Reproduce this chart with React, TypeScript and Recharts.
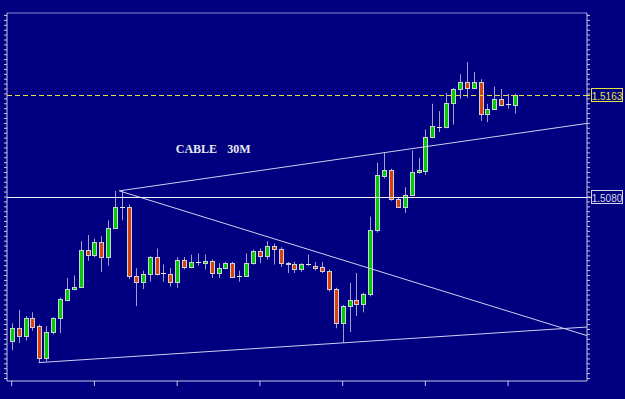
import React from 'react';
import { ComposedChart, Bar, XAxis, YAxis, ReferenceLine, ReferenceDot } from 'recharts';

// 30 minute GBP/USD candles
const opens = [
  1.4963, 1.4973, 1.4967, 1.4981, 1.4975, 1.4949, 1.4970, 1.4981, 1.4996, 1.5005,
  1.5007, 1.5037, 1.5033, 1.5043, 1.5031, 1.5055, 1.5072, 1.5072, 1.5016, 1.5011,
  1.5017, 1.5031, 1.5018, 1.5017, 1.5011, 1.5029, 1.5023, 1.5027, 1.5026, 1.5028,
  1.5018, 1.5022, 1.5026, 1.5016, 1.5016, 1.5026, 1.5036, 1.5032, 1.5040, 1.5038,
  1.5026, 1.5025, 1.5021, 1.5025, 1.5024, 1.5023, 1.5020, 1.5005, 1.4977, 1.4991,
  1.4996, 1.4993, 1.5001, 1.5053, 1.5097, 1.5102, 1.5078, 1.5072, 1.5082, 1.5100,
  1.5101, 1.5129, 1.5137, 1.5137, 1.5157, 1.5168, 1.5174, 1.5169, 1.5174, 1.5148,
  1.5152, 1.5160, 1.5156, 1.5155,
];
const highs = [
  1.4977, 1.4988, 1.4983, 1.4986, 1.4976, 1.4975, 1.4982, 1.4998, 1.5014, 1.5016,
  1.5044, 1.5049, 1.5046, 1.5048, 1.5061, 1.5085, 1.5085, 1.5074, 1.5022, 1.5020,
  1.5032, 1.5038, 1.5025, 1.5022, 1.5031, 1.5031, 1.5033, 1.5034, 1.5033, 1.5029,
  1.5026, 1.5027, 1.5027, 1.5020, 1.5034, 1.5037, 1.5038, 1.5044, 1.5042, 1.5039,
  1.5027, 1.5027, 1.5026, 1.5033, 1.5027, 1.5027, 1.5021, 1.5006, 1.4992, 1.5010,
  1.5018, 1.5002, 1.5064, 1.5108, 1.5116, 1.5103, 1.5080, 1.5088, 1.5118, 1.5112,
  1.5135, 1.5156, 1.5150, 1.5165, 1.5169, 1.5180, 1.5190, 1.5182, 1.5176, 1.5156,
  1.5170, 1.5168, 1.5164, 1.5164,
];
const lows = [
  1.4955, 1.4961, 1.4963, 1.4971, 1.4945, 1.4946, 1.4968, 1.4969, 1.4995, 1.5004,
  1.5006, 1.5028, 1.5031, 1.5019, 1.5024, 1.5054, 1.5061, 1.5013, 1.4991, 1.5005,
  1.5011, 1.5016, 1.5011, 1.5007, 1.5006, 1.5021, 1.5022, 1.5024, 1.5021, 1.5014,
  1.5014, 1.5021, 1.5014, 1.5011, 1.5015, 1.5025, 1.5026, 1.5029, 1.5025, 1.5023,
  1.5018, 1.5018, 1.5019, 1.5024, 1.5020, 1.5018, 1.5003, 1.4973, 1.4961, 1.4970,
  1.4983, 1.4986, 1.4999, 1.5051, 1.5095, 1.5077, 1.5071, 1.5067, 1.5081, 1.5099,
  1.5098, 1.5128, 1.5133, 1.5136, 1.5139, 1.5160, 1.5161, 1.5168, 1.5142, 1.5141,
  1.5151, 1.5154, 1.5152, 1.5148,
];
const closes = [
  1.4973, 1.4967, 1.4981, 1.4974, 1.4949, 1.4970, 1.4981, 1.4997, 1.5005, 1.5007,
  1.5037, 1.5033, 1.5043, 1.5031, 1.5055, 1.5072, 1.5072, 1.5016, 1.5011, 1.5017,
  1.5031, 1.5017, 1.5018, 1.5011, 1.5029, 1.5023, 1.5027, 1.5027, 1.5028, 1.5018,
  1.5022, 1.5026, 1.5015, 1.5016, 1.5026, 1.5036, 1.5032, 1.5040, 1.5038, 1.5026,
  1.5025, 1.5021, 1.5025, 1.5025, 1.5022, 1.5020, 1.5005, 1.4977, 1.4991, 1.4996,
  1.4993, 1.5001, 1.5053, 1.5098, 1.5102, 1.5078, 1.5072, 1.5082, 1.5100, 1.5102,
  1.5129, 1.5138, 1.5137, 1.5157, 1.5168, 1.5174, 1.5169, 1.5174, 1.5148, 1.5152,
  1.5160, 1.5155, 1.5156, 1.5163,
];

// hand drawn trend lines (bar index, price)
const upperTrend = [{ x: 15.6, y: 1.5085 }, { x: 83.44, y: 1.514 }];
const fallingTrend = [{ x: 15.6, y: 1.5085 }, { x: 83.44, y: 1.4967 }];
const lowerTrend = [{ x: 3.9, y: 1.4945 }, { x: 83.44, y: 1.4974 }];

const dashedLevel = 1.5163;
const solidLevel = 1.508;

const xTicks = [0, 12, 24, 36, 48, 60, 72];
const yTicks = Array.from({ length: 75 }, (_, k) => +(1.4932 + k * 0.0004).toFixed(4));

const X_DOMAIN: [number, number] = [-0.68, 83.44];
const Y_DOMAIN: [number, number] = [1.493, 1.523];

const BG = '#000080';
const FRAME = '#c8c8e8';
const TOP_FRAME = '#8c8cc8';
const GREEN = '#00cc00';
const RED = '#d8400c';
const WICK = '#a0a0d0';
const OUTLINE = '#d0d0dc';
const YELLOW = '#e8e040';

const data = opens.map((open, i) => ({
  i,
  open,
  high: highs[i],
  low: lows[i],
  close: closes[i],
  range: [lows[i], highs[i]],
}));

// axes only show their tick marks, no labels
const NoLabel = () => <g />;

// horizontal level snapped to a whole pixel so it stays crisp
const CrispLine = (props: any) => {
  const { x1, x2, y1, lineColor, dash } = props;
  if (y1 == null) return null;
  const y = Math.round(y1) + 0.5;
  return <line x1={x1} x2={x2} y1={y} y2={y} stroke={lineColor} strokeDasharray={dash} />;
};

const Candle = (props: any) => {
  const { x, y, width, height } = props;
  const d = props.payload ?? props;
  if (d == null || height == null) return null;
  const { open, close, high, low } = d;
  const c = Math.round(x + width / 2);
  const py = (v: number) => y + ((high - v) / (high - low)) * height;
  const yTop = Math.round(py(Math.max(open, close))) + 0.5;
  const yBot = Math.round(py(Math.min(open, close))) + 0.5;
  return (
    <g>
      <line x1={c + 0.5} x2={c + 0.5} y1={y} y2={y + height} stroke={WICK} />
      {open === close ? (
        <line x1={c - 2} x2={c + 3} y1={yTop} y2={yTop} stroke="#e8e8f0" />
      ) : (
        <rect
          x={c - 1.5}
          y={yTop}
          width={4}
          height={Math.max(yBot - yTop, 1)}
          fill={close > open ? GREEN : RED}
          stroke={OUTLINE}
        />
      )}
    </g>
  );
};

const PriceTag = (props: any) => {
  const { viewBox, text, color, lineColor, dash } = props;
  if (!viewBox) return null;
  const right = viewBox.x + viewBox.width;
  const y = Math.round(viewBox.y) + 0.5;
  return (
    <g>
      <line x1={right} x2={right + 4} y1={y} y2={y} stroke={lineColor} strokeDasharray={dash} />
      <rect x={right + 4.5} y={y - 7} width={31} height={13} fill={BG} stroke={color} />
      <text
        x={right + 20}
        y={y + 4}
        textAnchor="middle"
        fill={color}
        fontSize={10}
        fontFamily="'Liberation Sans', Arial, sans-serif"
      >
        {text}
      </text>
    </g>
  );
};

const Caption = (props: any) => {
  const { viewBox } = props;
  if (!viewBox) return null;
  return (
    <text
      x={viewBox.x}
      y={viewBox.y}
      fill="#e8e8ee"
      fontSize={12}
      fontWeight="bold"
      fontFamily="'Liberation Serif', 'DejaVu Serif', serif"
    >
      <tspan>CABLE</tspan>
      <tspan dx={10}>30M</tspan>
    </text>
  );
};

export default function App() {
  return (
    <div style={{ position: 'absolute', left: 0, top: 0, width: 625, height: 399, background: BG }}>
      <ComposedChart width={625} height={399} data={data} margin={{ top: 13, right: 37, bottom: 0, left: 6 }}>
        <XAxis
          dataKey="i"
          type="number"
          domain={X_DOMAIN}
          allowDataOverflow
          ticks={xTicks}
          interval={0}
          tick={<NoLabel />}
          tickSize={5}
          height={18}
          stroke={FRAME}
        />
        <YAxis
          yAxisId="l"
          orientation="left"
          type="number"
          domain={Y_DOMAIN}
          allowDataOverflow
          ticks={yTicks}
          interval={0}
          tick={<NoLabel />}
          tickSize={3}
          width={1}
          stroke={FRAME}
        />
        <YAxis
          yAxisId="r"
          orientation="right"
          type="number"
          domain={Y_DOMAIN}
          allowDataOverflow
          ticks={yTicks}
          interval={0}
          tick={<NoLabel />}
          tickSize={3}
          width={1}
          stroke={FRAME}
        />
        <ReferenceLine yAxisId="l" y={Y_DOMAIN[1]} stroke={TOP_FRAME} ifOverflow="visible" />
        <ReferenceLine yAxisId="l" segment={lowerTrend} stroke="#d0d0f0" ifOverflow="visible" />
        <ReferenceLine yAxisId="l" segment={upperTrend} stroke="#d0d0f0" ifOverflow="visible" />
        <ReferenceLine yAxisId="l" segment={fallingTrend} stroke="#d0d0f0" ifOverflow="visible" />
        <ReferenceLine
          yAxisId="l"
          y={solidLevel}
          stroke="#f4f4f8"
          shape={<CrispLine lineColor="#f4f4f8" />}
          label={<PriceTag text="1.5080" color="#d8d8e4" lineColor="#f4f4f8" />}
        />
        <ReferenceLine
          yAxisId="l"
          y={dashedLevel}
          stroke={YELLOW}
          shape={<CrispLine lineColor={YELLOW} dash="5 3" />}
          label={<PriceTag text="1.5163" color={YELLOW} lineColor={YELLOW} dash="3 2" />}
        />
        <ReferenceDot
          yAxisId="l"
          x={23.8}
          y={1.51155}
          r={0}
          fill="none"
          stroke="none"
          label={<Caption />}
        />
        <Bar yAxisId="l" dataKey="range" barSize={5} shape={<Candle />} isAnimationActive={false} />
      </ComposedChart>
    </div>
  );
}
